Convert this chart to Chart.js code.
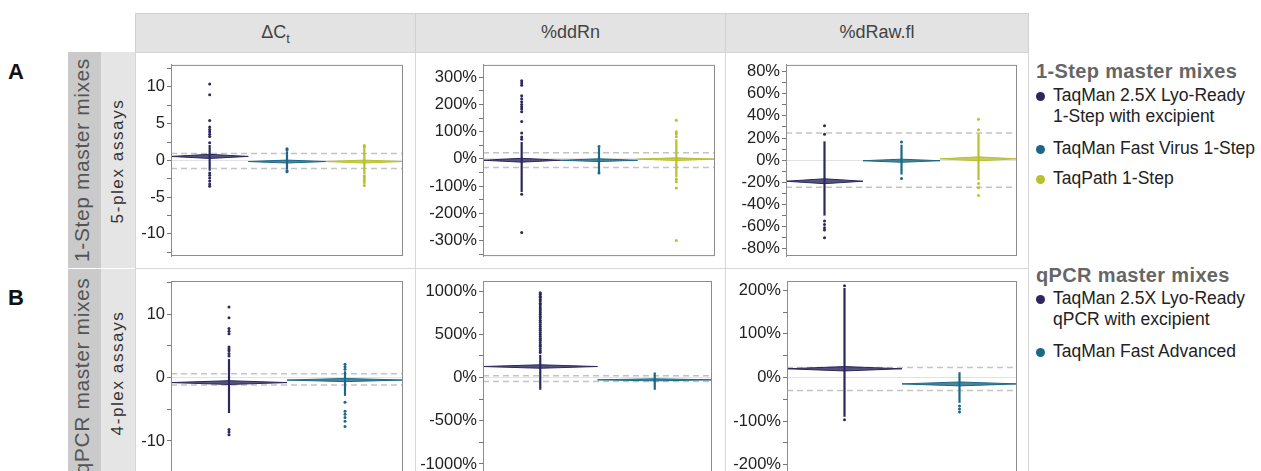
<!DOCTYPE html>
<html>
<head>
<meta charset="utf-8">
<script src="https://cdn.jsdelivr.net/npm/chart.js@4.4.1/dist/chart.umd.min.js"></script>
<style>
  body { margin: 0; width: 1261px; height: 471px; overflow: hidden; background: #fff; position: relative;
         font-family: "Liberation Sans", Arial, sans-serif; color: #222; }
  .abs { position: absolute; box-sizing: border-box; }
  .hdr { background: #e3e3e3; border: 1px solid #d0d0d0; text-align: center; font-size: 18px; color: #444; line-height: 37px; }
  .cell { border: 1px solid #d6d6d6; background: #fff; }
  .vtext { transform-origin: center; transform: rotate(-90deg); text-align: center; white-space: nowrap; }
  .letter { font-weight: bold; font-size: 22px; color: #111; }
  .lgTitle { font-weight: bold; font-size: 20px; letter-spacing: 0.35px; color: #666; white-space: nowrap; }
  .lgItem { font-size: 17.5px; line-height: 21px; color: #222; white-space: nowrap; }
  .dot { width: 9px; height: 9px; border-radius: 50%; }
  canvas { position: absolute; }
</style>
</head>
<body>
<!-- frame of the panel grid -->
<div class="abs hdr" style="left:135px;top:13px;width:281px;height:40px;">ΔC<sub style="font-size:13px">t</sub></div>
<div class="abs hdr" style="left:415px;top:13px;width:311px;height:40px;">%ddRn</div>
<div class="abs hdr" style="left:725px;top:13px;width:304px;height:40px;">%dRaw.fl</div>

<div class="abs cell" style="left:135px;top:52px;width:281px;height:217px;"></div>
<div class="abs cell" style="left:415px;top:52px;width:311px;height:217px;"></div>
<div class="abs cell" style="left:725px;top:52px;width:304px;height:217px;"></div>
<div class="abs cell" style="left:135px;top:268px;width:281px;height:230px;"></div>
<div class="abs cell" style="left:415px;top:268px;width:311px;height:230px;"></div>
<div class="abs cell" style="left:725px;top:268px;width:304px;height:230px;"></div>

<div class="abs" style="left:68px;top:52px;width:33px;height:216px;background:#cacaca;"></div>
<div class="abs" style="left:68px;top:269px;width:33px;height:230px;background:#cacaca;"></div>
<div class="abs" style="left:101px;top:52px;width:34px;height:216px;background:#e5e5e5;"></div>
<div class="abs" style="left:101px;top:269px;width:34px;height:230px;background:#e5e5e5;"></div>

<div class="abs vtext" style="left:-24px;top:146px;width:216px;height:28px;font-size:21px;letter-spacing:0.6px;color:#555;">1-Step master mixes</div>
<div class="abs vtext" style="left:-24px;top:362px;width:216px;height:28px;font-size:21px;letter-spacing:0.6px;color:#555;">qPCR master mixes</div>
<div class="abs vtext" style="left:10px;top:151px;width:216px;height:20px;font-size:17px;letter-spacing:1.6px;color:#333;">5-plex assays</div>
<div class="abs vtext" style="left:10px;top:363px;width:216px;height:20px;font-size:17px;letter-spacing:1.6px;color:#333;">4-plex assays</div>

<div class="abs letter" style="left:8px;top:59px;">A</div>
<div class="abs letter" style="left:8px;top:285px;">B</div>

<div id="legend"></div>

<canvas id="a1"></canvas>
<canvas id="a2"></canvas>
<canvas id="a3"></canvas>
<canvas id="b1"></canvas>
<canvas id="b2"></canvas>
<canvas id="b3"></canvas>

<script>
// ---- data ----
const metrics = ['ΔCt', '%ddRn', '%dRaw.fl']
const oneStepMixes = ['TaqMan 2.5X Lyo-Ready\n1-Step with excipient', 'TaqMan Fast Virus 1-Step', 'TaqPath 1-Step']
const qpcrMixes = ['TaqMan 2.5X Lyo-Ready\nqPCR with excipient', 'TaqMan Fast Advanced']

// row A, ΔCt
const a1Means = [0.55, -0.15, -0.15]
const a1Ci = [0.28, 0.2, 0.2]
const a1Core = [[-1.4, 2.1], [-1.25, 1.25], [-1.9, 1.7]]
const a1Points = [
  [10.4, 8.95, 5.45, 4.55, 4.2, 3.9, 3.55, 3.25, 2.4, -1.7, -2.0, -2.4, -2.8, -3.2, -3.5],
  [1.6, 1.45, -1.4, -1.55],
  [2.05, 1.85, -2.1, -2.4, -2.7, -3.0, -3.4],
]
const a1Refs = [0.95, -1.1]
const a1Major = [-10, -5, 0, 5, 10]
const a1Minor = [-12.5, -7.5, -2.5, 2.5, 7.5, 12.5]
const a1Range = [-13, 13]

// row A, %ddRn
const a2Means = [-5, -5, -1]
const a2Ci = [7, 5, 5]
const a2Core = [[-122, 62], [-50, 40], [-68, 72]]
const a2Points = [
  [287, 279, 270, 232, 221, 210, 200, 191, 183, 173, 137, 95, 80, 72, -130, -270],
  [45, -52],
  [142, 100, 92, 82, -75, -84, -107, -300],
]
const a2Refs = [22, -32]
const a2Major = [-300, -200, -100, 0, 100, 200, 300]
const a2Minor = [-350, -250, -150, -50, 50, 150, 250]
const a2Range = [-357, 345]

// row A, %dRaw.fl
const a3Means = [-19, -0.5, 1.2]
const a3Ci = [2.2, 1.4, 1.8]
const a3Core = [[-50, 17], [-13, 14], [-18, 24]]
const a3Points = [
  [31, 23.5, -55, -58, -61, -63, -70],
  [16.5, -16.5],
  [37, 27.5, -21, -25, -32],
]
const a3Refs = [24.5, -24.5]
const a3Major = [-80, -60, -40, -20, 0, 20, 40, 60, 80]
const a3Minor = [-70, -50, -30, -10, 10, 30, 50, 70]
const a3Range = [-86.5, 86]

// row B, ΔCt
const b1Means = [-0.8, -0.4]
const b1Ci = [0.3, 0.25]
const b1Core = [[-5.6, 2.9], [-2.9, 1.0]]
const b1Points = [
  [11.1, 9.4, 7.7, 7.3, 6.9, 4.8, 4.5, 4.2, 3.8, 3.4, -8.2, -8.6, -9.0],
  [2.1, 1.7, 1.3, -3.9, -5.3, -5.8, -6.3, -6.9, -7.7],
]
const b1Refs = [0.6, -1.2]
const b1Major = [-10, 0, 10]
const b1Minor = [-15, -5, 5, 15]
const b1Range = [-15.2, 15.2]

// row B, %ddRn
const b2Means = [127, -27]
const b2Ci = [20, 12]
const b2Core = [[-142, 262], [-142, 58]]
const b2Points = [
  [981, 962, 941, 925, 903, 884, 860, 842, 815, 796, 772, 748, 730, 705, 688, 662, 640, 612,
   590, 566, 545, 520, 498, 475, 450, 430, 405, 380, 360, 335, 310, 288],
  [],
]
const b2Refs = [19, -46]
const b2Major = [-1000, -500, 0, 500, 1000]
const b2Minor = [-750, -250, 250, 750]
const b2Range = [-1116, 1116]

// row B, %dRaw.fl
const b3Means = [20, -14.7]
const b3Ci = [5, 4.5]
const b3Core = [[-90, 205], [-58, 12]]
const b3Points = [[210, -97], [-65, -72, -79]]
const b3Refs = [23, -30]
const b3Major = [-200, -100, 0, 100, 200]
const b3Minor = [-150, -50, 50, 150]
const b3Range = [-221, 221]

// ---- styling ----
const NAVY = '#2b285e'
const TEAL = '#1b6886'
const LIME = '#b7c12d'
const rowAColors = [NAVY, TEAL, LIME]
const rowBColors = [NAVY, TEAL]

Chart.defaults.font.family = '"Liberation Sans", Arial, sans-serif'
Chart.defaults.font.size = 16.5
Chart.defaults.color = '#222'

// legend (html text)
function buildLegend() {
  const host = document.getElementById('legend')
  const groups = [
    { title: '1-Step master mixes', top: 60, names: oneStepMixes, colors: rowAColors, tops: [85, 138, 168] },
    { title: 'qPCR master mixes', top: 264, names: qpcrMixes, colors: rowBColors, tops: [288, 341] },
  ]
  groups.forEach((g) => {
    const t = document.createElement('div')
    t.className = 'abs lgTitle'
    t.style.left = '1036px'
    t.style.top = g.top + 'px'
    t.textContent = g.title
    host.appendChild(t)
    g.names.forEach((name, i) => {
      const dot = document.createElement('div')
      dot.className = 'abs dot'
      dot.style.left = '1036px'
      dot.style.top = g.tops[i] + 7 + 'px'
      dot.style.background = g.colors[i]
      host.appendChild(dot)
      const txt = document.createElement('div')
      txt.className = 'abs lgItem'
      txt.style.left = '1053px'
      txt.style.top = g.tops[i] + 'px'
      txt.innerHTML = name.replace('\n', '<br>')
      host.appendChild(txt)
    })
  })
}
buildLegend()

// draws the plot frame around the chart area
const framePlugin = {
  id: 'frame',
  afterDatasetsDraw(chart) {
    const { ctx, chartArea: a } = chart
    ctx.save()
    ctx.strokeStyle = '#8c8c8c'
    ctx.lineWidth = 1
    ctx.strokeRect(a.left + 0.5, a.top + 0.5, a.right - a.left - 1, a.bottom - a.top - 1)
    ctx.restore()
  },
}

function alpha(hex, a) {
  const n = parseInt(hex.slice(1), 16)
  return `rgba(${(n >> 16) & 255},${(n >> 8) & 255},${n & 255},${a})`
}

function makePanel(id, box, d) {
  const canvas = document.getElementById(id)
  canvas.width = box.w
  canvas.height = box.h
  canvas.style.left = box.x + 'px'
  canvas.style.top = box.y + 'px'
  const n = d.means.length
  const datasets = []

  // dashed reference lines
  d.refs.forEach((r) => {
    datasets.push({
      data: [{ x: 0, y: r }, { x: n, y: r }],
      showLine: true, pointRadius: 0, borderColor: '#c4c4c4', borderWidth: 1.5,
      borderDash: [6, 4], order: 4,
    })
  })

  for (let i = 0; i < n; i++) {
    const c = i + 0.5
    const col = d.colors[i]
    // individual points
    datasets.push({
      data: d.points[i].map((v) => ({ x: c, y: v })),
      pointRadius: 1.5, pointBorderWidth: 0, pointBackgroundColor: col, order: 3,
    })
    // dense core of the strip
    datasets.push({
      data: [{ x: c, y: d.core[i][0] }, { x: c, y: d.core[i][1] }],
      showLine: true, pointRadius: 0, borderColor: col, borderWidth: 2.2, order: 2,
    })
    // mean diamond
    const m = d.means[i]
    const h = d.ci[i]
    datasets.push({
      data: [{ x: i, y: m }, { x: c, y: m + h }, { x: i + 1, y: m }, { x: c, y: m - h }, { x: i, y: m }],
      showLine: true, pointRadius: 0, borderColor: col, borderWidth: 1,
      backgroundColor: alpha(col, 0.8), fill: 'shape', order: 1,
    })
  }

  const majorSet = new Set(d.major)
  return new Chart(canvas, {
    type: 'scatter',
    data: { datasets },
    plugins: [framePlugin],
    options: {
      responsive: false,
      animation: false,
      devicePixelRatio: 1,
      layout: { padding: { left: 0, top: box.pt, right: box.pr, bottom: box.pb } },
      plugins: { legend: { display: false }, tooltip: { enabled: false } },
      scales: {
        x: { type: 'linear', min: 0, max: n, display: false },
        y: {
          min: d.range[0],
          max: d.range[1],
          afterBuildTicks: (axis) => {
            axis.ticks = [...d.major, ...d.minor]
              .filter((v) => v >= d.range[0] && v <= d.range[1])
              .sort((p, q) => p - q)
              .map((v) => ({ value: v }))
          },
          afterFit: (axis) => { axis.width = box.aw },
          ticks: {
            autoSkip: false,
            padding: 2,
            color: '#222',
            callback: (v) => (majorSet.has(v) ? (d.pct ? v + '%' : String(v)) : ''),
          },
          grid: {
            drawOnChartArea: true,
            color: (ctx) => (ctx.tick && ctx.tick.value === 0 ? '#e2e2e2' : 'rgba(0,0,0,0)'),
            tickColor: '#777',
            tickLength: 4,
          },
          border: { display: true, color: '#8c8c8c' },
        },
      },
    },
  })
}

makePanel('a1', { x: 136, y: 53, w: 279, h: 215, aw: 35, pt: 9, pr: 12, pb: 12 },
  { means: a1Means, ci: a1Ci, core: a1Core, points: a1Points, refs: a1Refs, major: a1Major, minor: a1Minor, range: a1Range, colors: rowAColors, pct: false })
makePanel('a2', { x: 416, y: 53, w: 309, h: 215, aw: 67, pt: 10, pr: 10, pb: 11 },
  { means: a2Means, ci: a2Ci, core: a2Core, points: a2Points, refs: a2Refs, major: a2Major, minor: a2Minor, range: a2Range, colors: rowAColors, pct: true })
makePanel('a3', { x: 726, y: 53, w: 302, h: 215, aw: 60, pt: 7, pr: 11, pb: 12 },
  { means: a3Means, ci: a3Ci, core: a3Core, points: a3Points, refs: a3Refs, major: a3Major, minor: a3Minor, range: a3Range, colors: rowAColors, pct: true })
makePanel('b1', { x: 136, y: 269, w: 279, h: 220, aw: 35, pt: 12, pr: 12, pb: 15 },
  { means: b1Means, ci: b1Ci, core: b1Core, points: b1Points, refs: b1Refs, major: b1Major, minor: b1Minor, range: b1Range, colors: rowBColors, pct: false })
makePanel('b2', { x: 416, y: 269, w: 309, h: 220, aw: 67, pt: 12, pr: 13, pb: 15 },
  { means: b2Means, ci: b2Ci, core: b2Core, points: b2Points, refs: b2Refs, major: b2Major, minor: b2Minor, range: b2Range, colors: rowBColors, pct: true })
makePanel('b3', { x: 726, y: 269, w: 302, h: 220, aw: 61, pt: 12, pr: 11, pb: 15 },
  { means: b3Means, ci: b3Ci, core: b3Core, points: b3Points, refs: b3Refs, major: b3Major, minor: b3Minor, range: b3Range, colors: rowBColors, pct: true })
</script>
</body>
</html>
